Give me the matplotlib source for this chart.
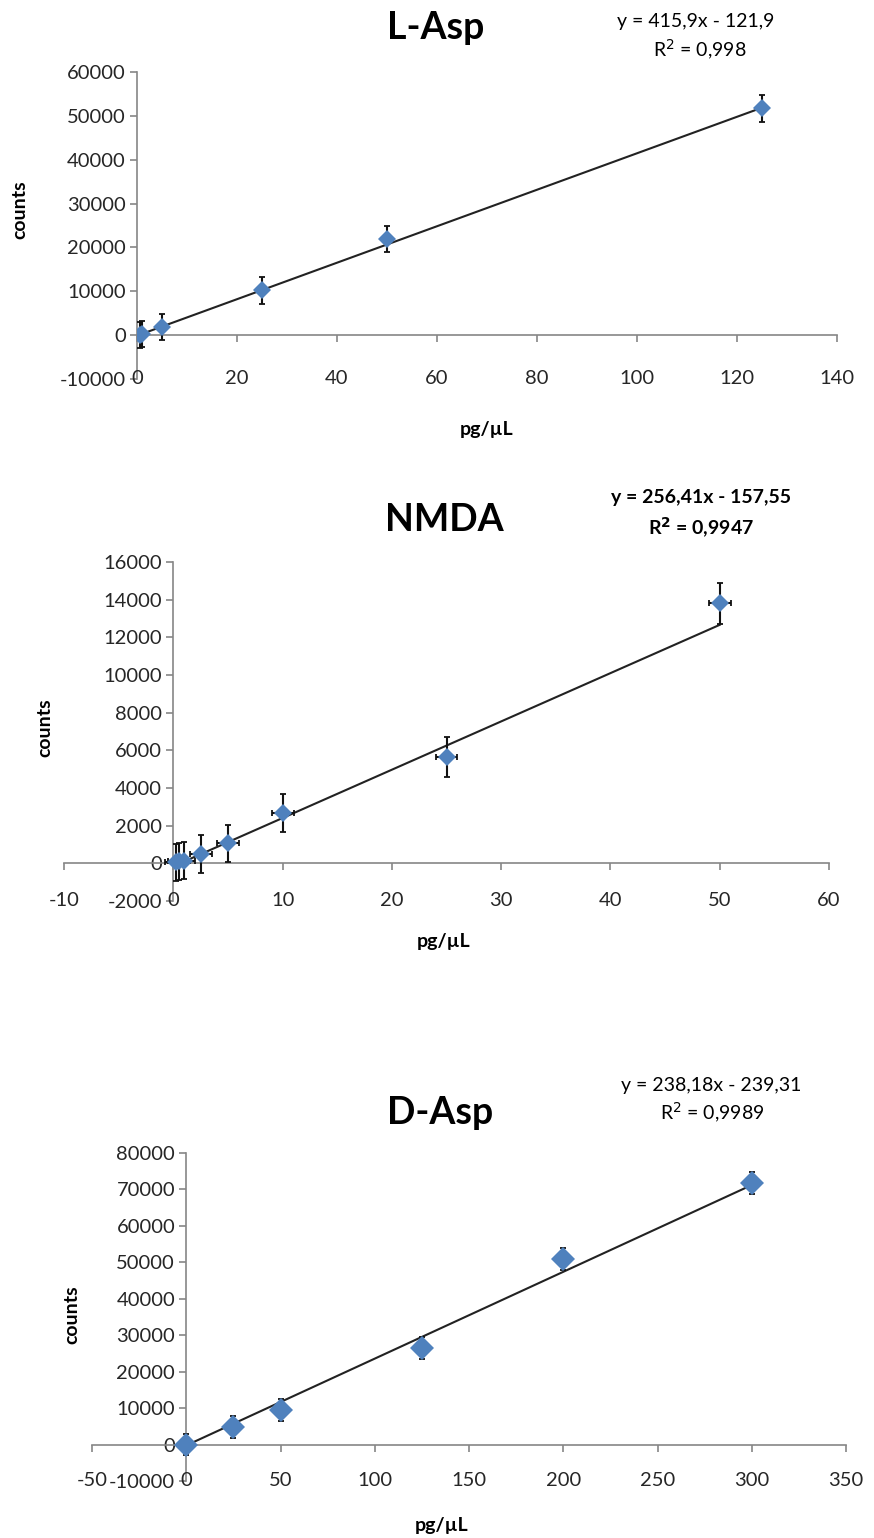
import matplotlib
matplotlib.use("Agg")
import matplotlib.pyplot as plt

plt.rcParams['font.family'] = ['Lato', 'DejaVu Sans']
plt.rcParams['axes.unicode_minus'] = False

# L-Asp
lasp_x = [0.5, 1, 5, 25, 50, 125]
lasp_y = [100, 300, 1800, 10200, 21900, 51700]
lasp_yerr = [3000, 3000, 3000, 3000, 3000, 3000]
lasp_xerr = [1, 1, 1, 1, 1, 1]
lasp_fit = [415.9, -121.9]

# NMDA
nmda_x = [0.25, 0.5, 1, 2.5, 5, 10, 25, 50]
nmda_y = [50, 100, 150, 480, 1060, 2680, 5650, 13800]
nmda_yerr = [1000, 1000, 1000, 1000, 1000, 1000, 1050, 1100]
nmda_xerr = [1, 1, 1, 1, 1, 1, 1, 1]
nmda_fit = [256.41, -157.55]

# D-Asp
dasp_x = [0, 25, 50, 125, 200, 300]
dasp_y = [0, 4900, 9600, 26600, 51000, 71800]
dasp_yerr = [3000, 3000, 3000, 3000, 3000, 3000]
dasp_fit = [238.18, -239.31]

W, H = 874, 1538
fig = plt.figure(figsize=(W / 100, H / 100), dpi=100)

axcol = '#868686'
blue = '#4F81BD'
txtcol = '#262626'


def px_axes(left, top, right, bottom):
    return fig.add_axes([left / W, 1 - bottom / H, (right - left) / W, (bottom - top) / H])


def setup(ax, xlim, xticks, ylim, yticks):
    ax.set_xlim(xlim)
    ax.set_ylim(ylim)
    ax.set_xticks(xticks)
    ax.set_yticks(yticks)
    ax.spines['left'].set_position(('data', 0))
    ax.spines['bottom'].set_position(('data', 0))
    ax.spines['top'].set_visible(False)
    ax.spines['right'].set_visible(False)
    for s in ['left', 'bottom']:
        ax.spines[s].set_color(axcol)
        ax.spines[s].set_linewidth(1.2)
    ax.tick_params(direction='out', length=5, width=1.2, color=axcol,
                   labelsize=14.5, labelcolor=txtcol, pad=3)
    ax.tick_params(axis='x', labelbottom=False)
    ax.patch.set_alpha(0)
    for t in xticks:
        ax.text(t, 0.0, str(t), transform=ax.get_xaxis_transform(),
                ha='center', va='center', fontsize=14.5, color=txtcol)


def draw(ax, x, y, yerr, xerr, fit, ms):
    xs = [min(x), max(x)]
    ax.plot(xs, [fit[0] * v + fit[1] for v in xs], color='#222222', lw=1.5, zorder=2)
    ax.errorbar(x, y, yerr=yerr, xerr=xerr, fmt='none', ecolor='#111111',
                elinewidth=1.5, capsize=2.5, capthick=1.3, zorder=3)
    ax.plot(x, y, 'D', color=blue, markersize=ms, markeredgewidth=0, zorder=4)


# L-Asp panel
ax1 = px_axes(137, 72, 837, 379)
setup(ax1, (0, 140), list(range(0, 141, 20)), (-10000, 60000), list(range(-10000, 60001, 10000)))
draw(ax1, lasp_x, lasp_y, lasp_yerr, lasp_xerr, lasp_fit, 9.5)
fig.text(436 / W, 1 - 28 / H, 'L-Asp', ha='center', va='center', fontsize=27, fontweight='bold')
fig.text(696 / W, 1 - 22 / H, 'y = 415,9x - 121,9', ha='center', va='center', fontsize=14)
fig.text(700 / W, 1 - 50 / H, 'R$^2$ = 0,998', ha='center', va='center', fontsize=14)
fig.text(20 / W, 1 - 210 / H, 'counts', rotation=90, ha='center', va='center',
         fontsize=14, fontweight='bold')
fig.text(487 / W, 1 - 430 / H, 'pg/µL', ha='center', va='center', fontsize=14, fontweight='bold')

# NMDA panel
ax2 = px_axes(64, 562, 829, 901)
setup(ax2, (-10, 60), list(range(-10, 61, 10)), (-2000, 16000), list(range(-2000, 16001, 2000)))
draw(ax2, nmda_x, nmda_y, nmda_yerr, nmda_xerr, nmda_fit, 9.5)
fig.text(444 / W, 1 - 520 / H, 'NMDA', ha='center', va='center', fontsize=27, fontweight='bold')
fig.text(701 / W, 1 - 498 / H, 'y = 256,41x - 157,55', ha='center', va='center',
         fontsize=14, fontweight='bold')
fig.text(701 / W, 1 - 528 / H, 'R$^\\mathbf{2}$ = 0,9947', ha='center', va='center',
         fontsize=14, fontweight='bold')
fig.text(45 / W, 1 - 728 / H, 'counts', rotation=90, ha='center', va='center',
         fontsize=14, fontweight='bold')
fig.text(444 / W, 1 - 942 / H, 'pg/µL', ha='center', va='center', fontsize=14, fontweight='bold')

# D-Asp panel
ax3 = px_axes(92, 1153, 846, 1481)
setup(ax3, (-50, 350), list(range(-50, 351, 50)), (-10000, 80000), list(range(-10000, 80001, 10000)))
draw(ax3, dasp_x, dasp_y, dasp_yerr, None, dasp_fit, 12)
fig.text(440 / W, 1 - 1113 / H, 'D-Asp', ha='center', va='center', fontsize=27, fontweight='bold')
fig.text(711 / W, 1 - 1085 / H, 'y = 238,18x - 239,31', ha='center', va='center', fontsize=14)
fig.text(712 / W, 1 - 1113 / H, 'R$^2$ = 0,9989', ha='center', va='center', fontsize=14)
fig.text(72 / W, 1 - 1315 / H, 'counts', rotation=90, ha='center', va='center',
         fontsize=14, fontweight='bold')
fig.text(442 / W, 1 - 1525 / H, 'pg/µL', ha='center', va='center', fontsize=14, fontweight='bold')

fig.savefig('out.png', dpi=100, facecolor='white')
